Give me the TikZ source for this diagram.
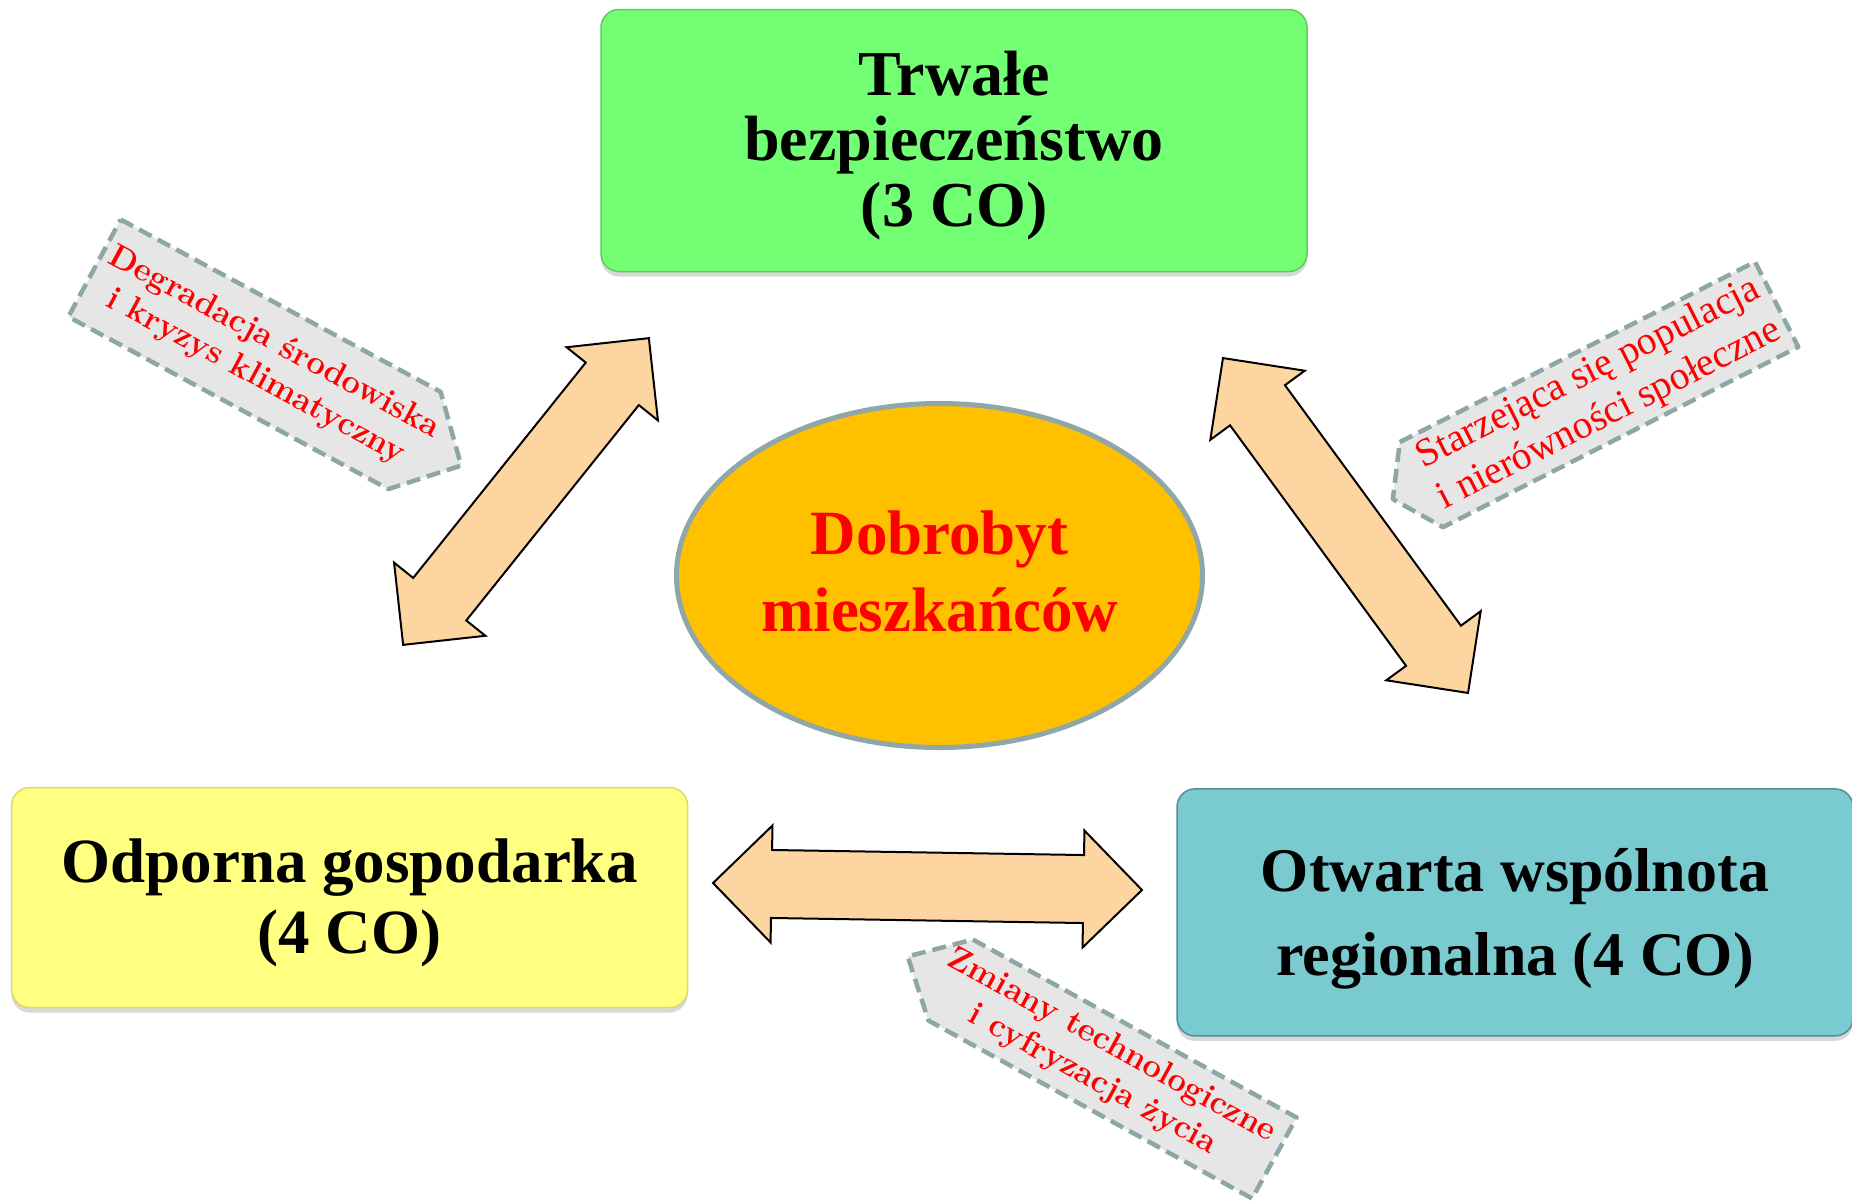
\documentclass[tikz,border=0pt]{standalone}
\usepackage{fontspec}
\newfontfamily\gar{Liberation Serif}
\usetikzlibrary{shapes.geometric,shapes.arrows,shadows,calc}
\definecolor{boxgreen}{RGB}{115,255,115}
\definecolor{boxyellow}{RGB}{255,255,128}
\definecolor{boxteal}{RGB}{122,203,208}
\definecolor{ellfill}{RGB}{255,192,0}
\definecolor{ellline}{RGB}{143,167,168}
\definecolor{peach}{RGB}{252,213,160}
\definecolor{taggray}{RGB}{230,230,230}
\definecolor{tagline}{RGB}{143,166,166}
\begin{document}
\begin{tikzpicture}[x=1pt,y=-1pt,
  mainbox/.style={rectangle, rounded corners=18pt, inner sep=0pt, line width=1.5pt,
    drop shadow={opacity=0.3, shadow xshift=0pt, shadow yshift=-5pt}},
  boxtext/.style={align=center, inner sep=0pt},
  dblarrow/.style={double arrow, double arrow head extend=24.5pt, double arrow tip angle=90,
    inner xsep=0pt, inner ysep=33pt, fill=peach, draw=black, line width=2pt, line join=miter},
  tagshape/.style={fill=taggray, draw=tagline, line width=4.5pt, dash pattern=on 14pt off 7pt, line join=round},
  tagframe/.style={rectangle, inner sep=0pt},
  tagtext/.style={text=red, align=center, inner sep=0pt},
]
\fill[white] (0,0) rectangle (1852,1200);
\useasboundingbox (0,0) rectangle (1852,1200);

% boxes
\node[mainbox, fill=boxgreen, draw=boxgreen!80!black, minimum width=706pt, minimum height=262pt] (green) at (954,140.5) {};
\node[boxtext, font={\gar\bfseries\fontsize{64}{65.5}\selectfont}] (greentxt) at ($(green.center)+(0,5)$)
  {Trwałe\\bezpieczeństwo\\(3 CO)};
\node[mainbox, fill=boxyellow, draw=boxyellow!85!black, minimum width=676pt, minimum height=220pt] (yellow) at (349.6,897.6) {};
\node[boxtext, font={\gar\bfseries\fontsize{63}{71}\selectfont}] (yellowtxt) at ($(yellow.center)+(0,5)$)
  {Odporna gospodarka\\(4 CO)};
\node[mainbox, fill=boxteal, draw=boxteal!70!black, minimum width=676pt, minimum height=247pt] (teal) at (1515,912.4) {};
\node[boxtext, font={\gar\bfseries\fontsize{62}{84}\selectfont}] (tealtxt) at ($(teal.center)+(0,6)$)
  {Otwarta wspólnota\\regionalna (4 CO)};

% central ellipse
\node[ellipse, minimum width=526pt, minimum height=344pt, fill=ellfill, draw=ellline, line width=5pt] (dob) at (939.5,575.5) {};
\node[boxtext, text=red, font={\gar\bfseries\fontsize{63}{77}\selectfont}] (dobtxt) at ($(dob.center)+(0,-4)$)
  {Dobrobyt\\mieszkańców};

% double arrows
\coordinate (a1s) at (403,645); \coordinate (a1e) at (649,338);
\node[dblarrow, rotate=51.3, minimum height=393pt] (arr1) at ($(a1s)!0.5!(a1e)$) {};
\coordinate (a2s) at (1223,358); \coordinate (a2e) at (1468,693);
\node[dblarrow, rotate=-53.8, minimum height=415pt] (arr2) at ($(a2s)!0.5!(a2e)$) {};
\coordinate (a3s) at (713,883); \coordinate (a3e) at (1142,890);
\node[dblarrow, rotate=-0.93, minimum height=429pt] (arr3) at ($(a3s)!0.5!(a3e)$) {};

% tag 1
\node[tagframe, rotate=-28.3, minimum width=363pt, minimum height=110pt] (t1) at (254.5,354.3) {};
\draw[tagshape] (t1.north west) -- (t1.north east) -- ($(t1.east)!-53pt!(t1.center)$)
  -- (t1.south east) -- (t1.south west) -- cycle;
\node[tagtext, rotate=-28.3, font={\bfseries\fontsize{33}{39}\selectfont}] (t1txt)
  at ($(t1.center)!12pt!(t1.east)$) {Degradacja środowiska\\i kryzys klimatyczny};

% tag 2
\node[tagframe, rotate=26.9, minimum width=398pt, minimum height=95pt] (t2) at (1599,394.5) {};
\draw[tagshape] (t2.north west) -- (t2.north east) -- (t2.south east) -- (t2.south west)
  -- ($(t2.west)!-32pt!(t2.center)$) -- cycle;
\node[tagtext, rotate=26.9, font={\gar\fontsize{39.5}{46}\selectfont}] (t2txt)
  at (t2.center) {Starzejąca się populacja\\i nierówności społeczne};

% tag 3
\node[tagframe, rotate=-28.8, minimum width=369pt, minimum height=92pt] (t3) at (1112.5,1069) {};
\draw[tagshape] (t3.north west) -- (t3.north east) -- (t3.south east) -- (t3.south west)
  -- ($(t3.west)!-49pt!(t3.center)$) -- cycle;
\node[tagtext, rotate=-28.8, font={\bfseries\fontsize{33}{39}\selectfont}] (t3txt)
  at ($(t3.center)!12pt!(t3.west)$) {Zmiany technologiczne\\i cyfryzacja życia};
\end{tikzpicture}
\end{document}
